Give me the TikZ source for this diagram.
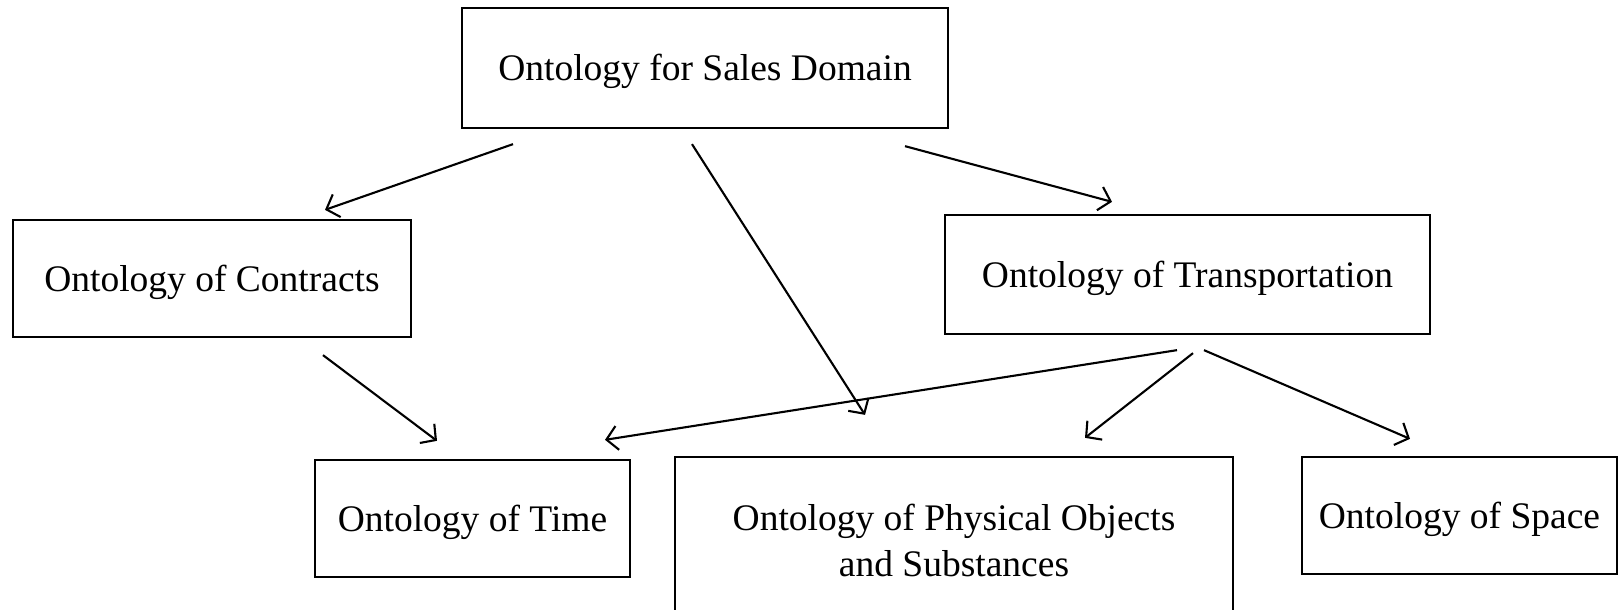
\documentclass[tikz,border=0pt]{standalone}
\usepackage{fontspec}
\setmainfont{Liberation Serif}
\usetikzlibrary{arrows.meta,calc}

\begin{document}
\begin{tikzpicture}[x=1pt,y=-1pt,
  box/.style={draw, line width=2.3pt, rectangle, inner sep=0pt,
    font=\fontsize{37.5}{33}\selectfont, text height=26pt, text depth=0pt},
  caption/.style={inner sep=0pt, align=center, font=\fontsize{37.5}{46}\selectfont},
  link/.style={line width=2.1pt, -{Straight Barb[length=11pt,width=24pt,line width=2.1pt]}}
]
  % page area; the lower box runs past the bottom edge
  \clip (0,0) rectangle (1623,610);

  % ontology boxes
  \node[box, minimum width=486pt, minimum height=120pt] (sales) at (705,68) {Ontology for Sales Domain};
  \node[box, minimum width=398pt, minimum height=117pt] (contracts) at (212,278.5) {Ontology of Contracts};
  \node[box, minimum width=485pt, minimum height=119pt] (transport) at (1187.5,274.5) {Ontology of Transportation};
  \node[box, minimum width=315pt, minimum height=117pt] (time) at (472.5,518.5) {Ontology of Time};
  \node[box, minimum width=558pt, minimum height=183pt] (physical) at (954,548.5) {};
  \node[caption, anchor=north] (physicaltext) at ($(physical.north)+(0,48)$)
        {Ontology of Physical Objects\\and Substances};
  \node[box, minimum width=315pt, minimum height=117pt] (space) at (1459.5,515.5) {Ontology of Space};

  % free ends of the connectors, placed beside the boxes
  \coordinate (s1) at ($(sales.south)+(-192,15)$);
  \coordinate (e1) at ($(contracts.north)+(113,-9)$);
  \coordinate (s2) at ($(sales.south)+(-13,15)$);
  \coordinate (e2) at ($(physical.north)+(-89,-41)$);
  \coordinate (s3) at ($(sales.south)+(200,17)$);
  \coordinate (e3) at ($(transport.north)+(-75.5,-12)$);
  \coordinate (s4) at ($(contracts.south)+(111,17)$);
  \coordinate (e4) at ($(time.north)+(-35.5,-18)$);
  \coordinate (s5) at ($(transport.south)+(-10.5,15)$);
  \coordinate (e5) at ($(time.north)+(132.5,-19)$);
  \coordinate (s6) at ($(transport.south)+(5.5,18)$);
  \coordinate (e6) at ($(physical.north)+(131,-18)$);
  \coordinate (s7) at ($(transport.south)+(16.5,15)$);
  \coordinate (e7) at ($(space.north)+(-49.5,-17)$);

  % connectors
  \draw[link] (s1) -- (e1);
  \draw[link] (s2) -- (e2);
  \draw[link] (s3) -- (e3);
  \draw[link] (s4) -- (e4);
  \draw[link] (s5) -- (e5);
  \draw[link] (s6) -- (e6);
  \draw[link] (s7) -- (e7);
\end{tikzpicture}
\end{document}
